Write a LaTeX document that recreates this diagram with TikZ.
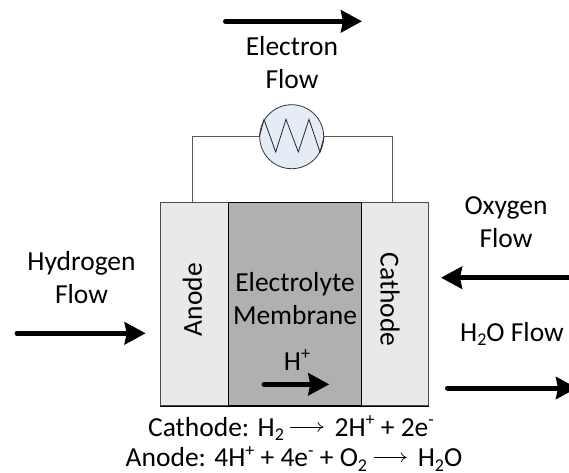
\documentclass[tikz,border=0pt]{standalone}
\usepackage{fontspec}
\setmainfont{Carlito}
\usetikzlibrary{arrows.meta}
\definecolor{loadfill}{HTML}{E6ECF6}
\definecolor{sidefill}{HTML}{E9E9E9}
\definecolor{midfill}{HTML}{B0B0B0}
\tikzset{
  lab/.style={font=\fontsize{27.5}{33}\selectfont, align=center, text=black, inner sep=0pt},
  cell/.style={line width=1pt, minimum height=203pt, inner sep=0pt, anchor=north west},
  wire/.style={draw=black!65, line width=1pt},
  flow/.style={line width=5pt, line cap=round, -{Stealth[length=21pt,width=22pt,inset=2pt]}, black},
  eqn/.style={lab, anchor=base},
}
\newcommand{\sbs}[1]{\raisebox{-0.17em}{\fontsize{18}{18}\selectfont #1}}
\newcommand{\sps}[1]{\raisebox{0.38em}{\fontsize{18}{18}\selectfont #1}}
\newcommand{\rlongarrow}{\tikz[baseline=-0.33em]\draw[line width=0.7pt,-{To[length=6pt,width=10pt]}] (0,0)--(33pt,0);}
\begin{document}
\begin{tikzpicture}[x=1pt,y=-1pt]
\useasboundingbox (0,0) rectangle (569,472);
\begin{scope}
\clip (0,0) rectangle (569,472);
% cells
\node[cell, draw=black!70, fill=sidefill, minimum width=67.5pt] (an) at (160,202) {};
\node[cell, draw=black!70, fill=sidefill, minimum width=67pt] (ca) at (361,202) {};
\node[cell, draw=black, fill=midfill, minimum width=133.5pt] (el) at (227.5,202) {};
\draw[black, line width=1pt] (an.south west) -- (ca.south east);
\node[lab, rotate=90] (anl) at (192.5,299.5) {Anode};
\node[lab, rotate=-90] (cal) at (390,299.5) {Cathode};
\node[lab] (ell) at (295,299) {Electrolyte\\Membrane};
% circuit
\node[circle, draw=black!80, fill=loadfill, line width=0.8pt, minimum size=64pt, inner sep=0pt] (load) at (291.7,136.7) {};
\coordinate (wl) at (192.5,202);
\coordinate (wr) at (392,202);
\draw[wire] (load.west) -| (wl);
\draw[wire] (load.east) -| (wr);
\draw[black!85, line width=0.8pt, line join=miter] (load.west) -- (264,119.5) -- (275.7,152) -- (286,119.3) -- (298.3,152) -- (309,119.3) -- (320,152) -- (load.east);
% labels
\node[lab] (ef) at (292,63) {Electron\\Flow};
\node[lab] (hf) at (81.5,278) {Hydrogen\\Flow};
\node[lab] (of) at (506,222) {Oxygen\\Flow};
\node[lab] (wf) at (512,334) {H\sbs{2}O Flow};
\node[lab] (hp) at (297,360) {H\sps{+}};
% flow arrows
\coordinate (e1) at (225.5,21.3); \coordinate (e2) at (362,21.3);
\coordinate (h1) at (17,333.3); \coordinate (h2) at (145.7,333.3);
\coordinate (o1) at (575,277.7); \coordinate (o2) at (441,277.7);
\coordinate (w1) at (447.5,388); \coordinate (w2) at (577,388);
\coordinate (p1) at (264,384.3); \coordinate (p2) at (329.3,384.3);
\draw[flow] (e1) -- (e2);
\draw[flow] (h1) -- (h2);
\draw[flow] (o1) -- (o2);
\draw[flow] (w1) -- (w2);
\draw[flow] (p1) -- (p2);
% equations
\node[eqn] (eq1) at (291,436) {Cathode: H\sbs{2} \rlongarrow{}\, 2H\sps{+} + 2e\sps{-}};
\node[eqn] (eq2) at (294,466.5) {Anode: 4H\sps{+} + 4e\sps{-} + O\sbs{2} \rlongarrow{}\, H\sbs{2}O};
\end{scope}
\end{tikzpicture}
\end{document}
